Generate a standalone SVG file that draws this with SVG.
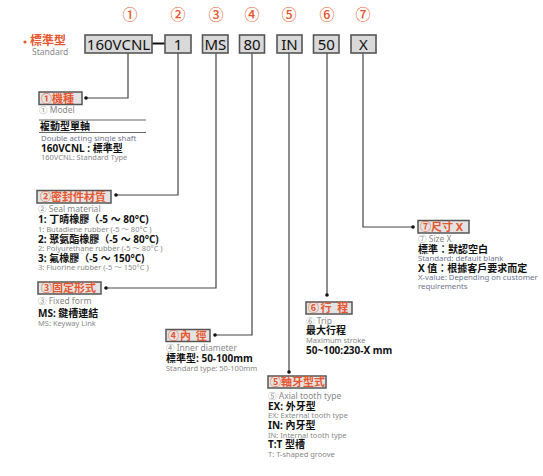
<svg xmlns="http://www.w3.org/2000/svg" width="543" height="476" viewBox="0 0 543 476">
<style>
text{font-family:"Noto Sans","Noto Sans CJK TC",sans-serif}
.num{fill:#e8562e;font-size:15px;text-anchor:middle;font-family:"Noto Sans CJK TC","Noto Sans",sans-serif;font-weight:500}
.code{fill:#d9d9d9;stroke:#555;stroke-width:1.6}
.ct{fill:#111;font-size:15px;text-anchor:middle}
.lab{fill:#e3e3e3;stroke:#555;stroke-width:1.5}
.lt{fill:#e8562e;font-size:11px;font-weight:bold}
.line{stroke:#444;stroke-width:1.2;fill:none}
.dot{fill:#111}
.sub{fill:#888;font-size:8.5px}
.b{fill:#111;font-size:10px;font-weight:bold}
.g{fill:#888;font-size:7.5px}
.bl{fill:#6c7590;font-size:7.8px}
</style>
<rect width="543" height="476" fill="#fff"/>
<g id="header">
<circle cx="25" cy="42" r="1.6" fill="#e8562e"/>
<text x="30" y="45" fill="#e8562e" font-size="12" font-weight="bold">標準型</text>
<text x="32" y="55" class="sub" font-size="8">Standard</text>
</g>
<g id="numbers">
<text x="130" y="20" class="num">①</text>
<text x="178" y="20" class="num">②</text>
<text x="216" y="20" class="num">③</text>
<text x="252" y="20" class="num">④</text>
<text x="289" y="20" class="num">⑤</text>
<text x="327" y="20" class="num">⑥</text>
<text x="363" y="20" class="num">⑦</text>
</g>
<g id="connectors">
<line x1="152" y1="43.5" x2="165" y2="43.5" stroke="#111" stroke-width="2"/>
<polyline class="line" points="128,53 128,98 86,98"/>
<polyline class="line" points="178,53 178,195 116,195"/>
<polyline class="line" points="216,53 216,288 106,288"/>
<polyline class="line" points="252,53 252,335 215,335"/>
<polyline class="line" points="289,53 289,372"/>
<polyline class="line" points="327,53 327,295"/>
<polyline class="line" points="363,53 363,227 413,227"/>
<circle class="dot" cx="86" cy="98" r="1.8"/>
<circle class="dot" cx="116" cy="195" r="1.8"/>
<circle class="dot" cx="106" cy="288" r="1.8"/>
<circle class="dot" cx="215" cy="335" r="1.8"/>
<circle class="dot" cx="289" cy="372" r="1.8"/>
<circle class="dot" cx="327" cy="295" r="1.8"/>
<circle class="dot" cx="413" cy="227" r="1.8"/>
</g>
<g id="code-160VCNL"><rect class="code" x="85" y="35" width="67" height="18"/><text class="ct" x="118.5" y="49.5">160VCNL</text></g>
<g id="code-1"><rect class="code" x="165" y="35" width="26" height="18"/><text class="ct" x="178" y="49.5">1</text></g>
<g id="code-MS"><rect class="code" x="202.5" y="35" width="25.5" height="18"/><text class="ct" x="215.3" y="49.5">MS</text></g>
<g id="code-80"><rect class="code" x="239.5" y="35" width="25" height="18"/><text class="ct" x="252" y="49.5">80</text></g>
<g id="code-IN"><rect class="code" x="277" y="35" width="25" height="18"/><text class="ct" x="289.5" y="49.5">IN</text></g>
<g id="code-50"><rect class="code" x="313.5" y="35" width="25.5" height="18"/><text class="ct" x="326.3" y="49.5">50</text></g>
<g id="code-X"><rect class="code" x="351" y="35" width="25" height="18"/><text class="ct" x="363.5" y="49.5">X</text></g>

<g id="model">
<rect class="lab" x="39" y="92" width="43" height="12.5"/>
<text class="lt" x="41" y="102.5">①機種</text>
<text class="sub" x="39" y="113">① Model</text>
<line x1="39" y1="120" x2="146" y2="120" stroke="#666" stroke-width="1.2"/>
<text class="b" x="40" y="130">複動型單軸</text>
<line x1="39" y1="132.5" x2="146" y2="132.5" stroke="#666" stroke-width="1.2"/>
<text class="bl" x="41" y="141">Double acting single shaft</text>
<text class="b" x="41" y="151.5">160VCNL : 標準型</text>
<text class="g" x="41" y="160">160VCNL: Standard Type</text>
</g>

<g id="seal">
<rect class="lab" x="37" y="190.5" width="74" height="12.5"/>
<text class="lt" x="40" y="201">②密封件材質</text>
<text class="sub" x="38" y="212">② Seal material</text>
<text class="b" x="38" y="223">1:  丁晴橡膠（-5 ～ 80°C)</text>
<text class="g" x="38" y="231.5">1:  Butadiene rubber (-5 ～ 80°C )</text>
<text class="b" x="38" y="242.5">2:  聚氨酯橡膠（-5 ～ 80°C)</text>
<text class="g" x="38" y="251">2:  Polyurethane rubber (-5 ～ 80°C )</text>
<text class="b" x="38" y="262">3:  氟橡膠（-5 ～ 150°C)</text>
<text class="g" x="38" y="270">3:  Fluorine rubber (-5 ～ 150°C )</text>
</g>

<g id="fixed">
<rect class="lab" x="38" y="282" width="63" height="12"/>
<text class="lt" x="41" y="292">③固定形式</text>
<text class="sub" x="38" y="304">③ Fixed form</text>
<text class="b" x="38" y="317">MS: 鍵槽連結</text>
<text class="g" x="38" y="325.5">MS: Keyway Link</text>
</g>

<g id="inner">
<rect class="lab" x="166" y="329.5" width="44" height="12"/>
<text class="lt" x="168" y="339.5" letter-spacing="1">④內 徑</text>
<text class="sub" x="166" y="351">④ Inner diameter</text>
<text class="b" x="166" y="362">標準型:  50-100mm</text>
<text class="g" x="166" y="371">Standard type:  50-100mm</text>
</g>

<g id="tooth">
<rect class="lab" x="268" y="376" width="58" height="12"/>
<text class="lt" x="270" y="386">⑤軸牙型式</text>
<text class="sub" x="268" y="399">⑤ Axial tooth type</text>
<text class="b" x="268" y="409.5">EX: 外牙型</text>
<text class="g" x="268" y="418">EX: External tooth type</text>
<text class="b" x="268" y="429">IN: 內牙型</text>
<text class="g" x="268" y="438">IN: Internal tooth type</text>
<text class="b" x="268" y="447.5">T:T 型槽</text>
<text class="g" x="268" y="457">T: T-shaped groove</text>
</g>

<g id="trip">
<rect class="lab" x="306" y="302" width="46" height="12"/>
<text class="lt" x="308" y="312" letter-spacing="1.5">⑥行 程</text>
<text class="sub" x="306" y="324">⑥ Trip</text>
<text class="b" x="306" y="334">最大行程</text>
<text class="g" x="306" y="343">Maximum stroke</text>
<text class="b" x="306" y="353.5">50~100:230-X mm</text>
</g>

<g id="size">
<rect class="lab" x="418" y="220.5" width="51" height="12.5"/>
<text class="lt" x="420" y="231">⑦尺寸 X</text>
<text class="sub" x="418" y="242">⑦ Size X</text>
<text class="b" x="418" y="252.5">標準：默認空白</text>
<text class="bl" x="418" y="261">Standard: default blank</text>
<text class="b" x="418" y="271.5">X 值：根據客戶要求而定</text>
<text class="bl" x="418" y="280">X-value: Depending on customer</text>
<text class="bl" x="418" y="289">requirements</text>
</g>
</svg>
